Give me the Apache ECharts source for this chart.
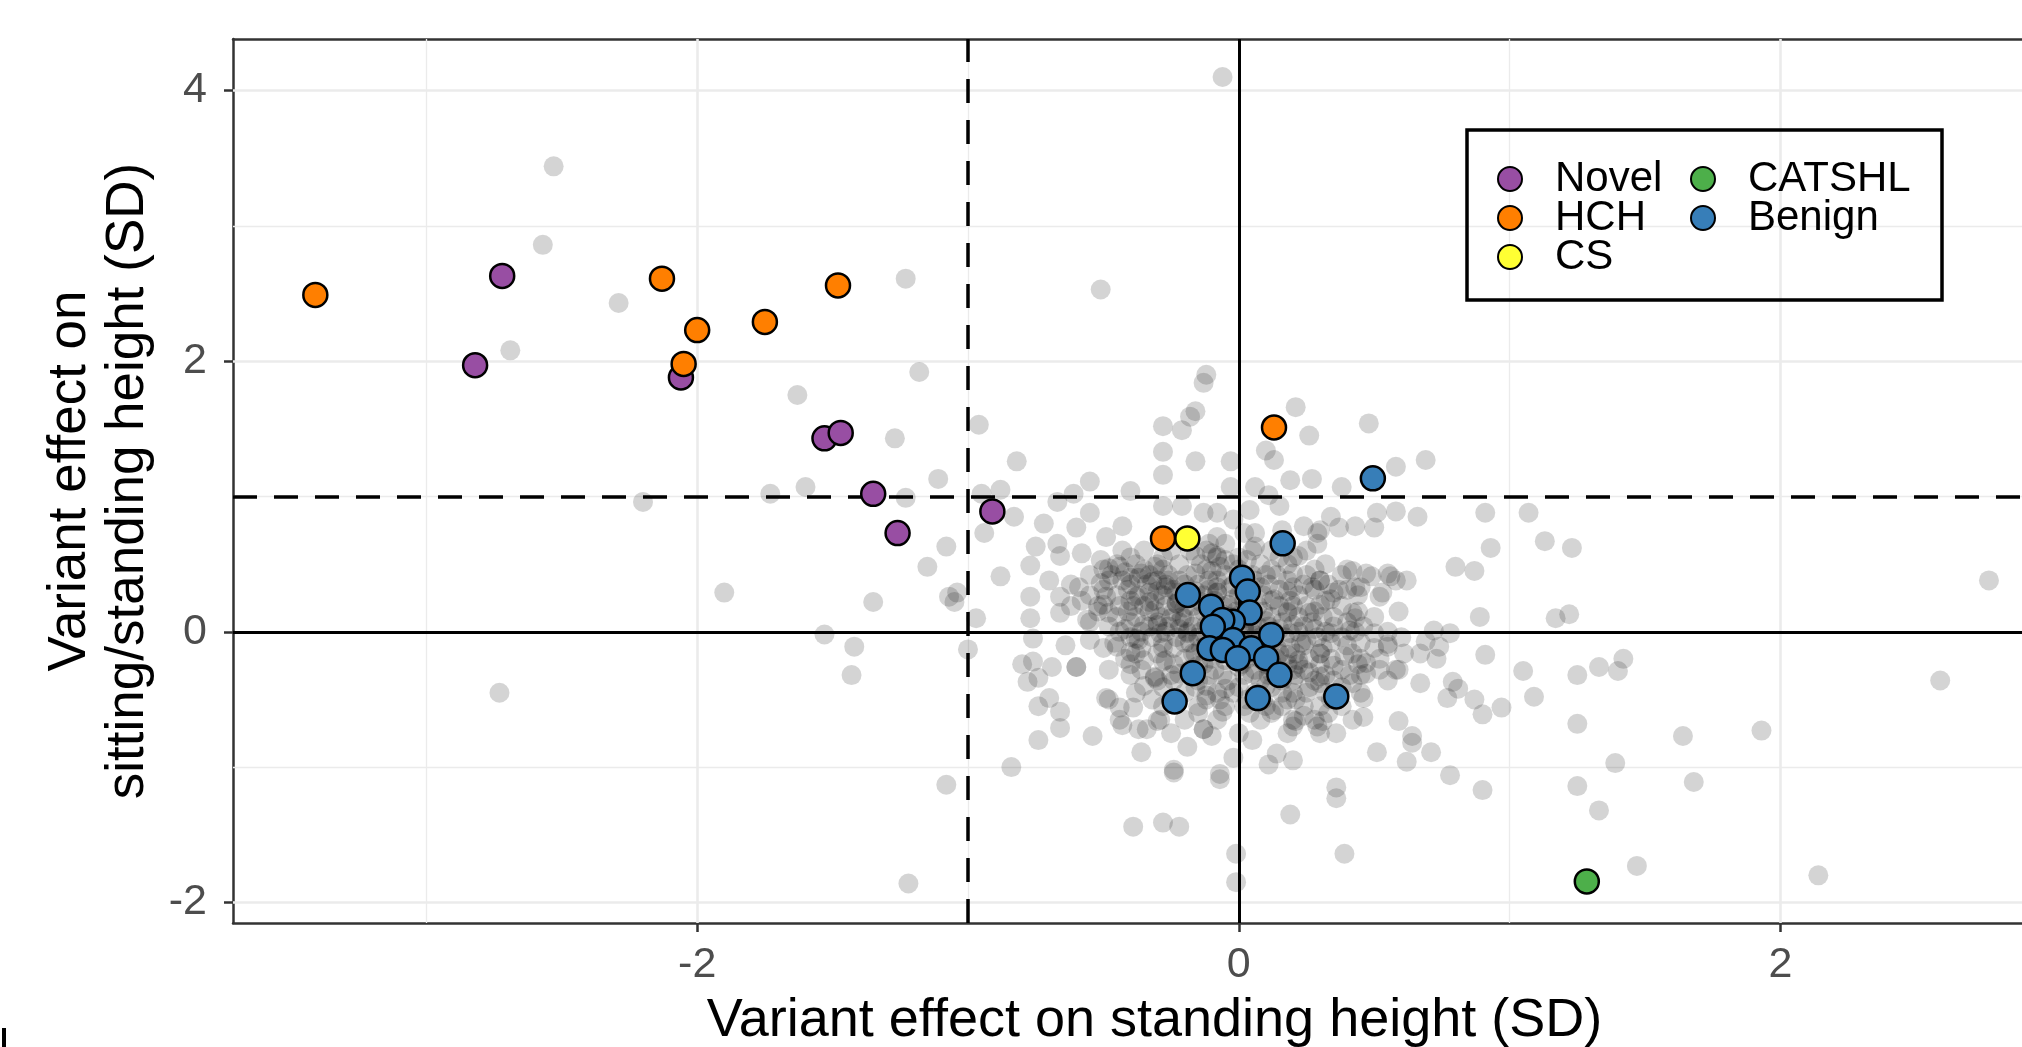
<!DOCTYPE html>
<html>
<head>
<meta charset="utf-8" />
<title>Variant effects</title>
<script src="https://cdn.jsdelivr.net/npm/echarts@6/dist/echarts.min.js"></script>
<style type="text/css">
body, html {
	margin: 0;
	padding: 0;
	background: #fff;
}
#chart {
	width: 2022px;
	height: 1047px;
}
</style>
</head>
<body>
<div id="chart"></div>
<script>
// tick values
const xTicks = [-2, 0, 2];
const yTicks = [-2, 0, 2, 4];
const xMinorGrid = [-3, -1, 1];
const yMinorGrid = [-1, 1, 3];

// highlighted variants [standing height, sitting/standing ratio]
const novelPts = [[-2.72, 2.63], [-2.82, 1.97], [-2.06, 1.88], [-1.53, 1.43], [-1.47, 1.47], [-1.35, 1.02], [-1.26, 0.73], [-0.91, 0.89]];
const hchPts = [[-3.41, 2.49], [-2.13, 2.61], [-2.00, 2.23], [-2.05, 1.98], [-1.75, 2.29], [-1.48, 2.56], [-0.28, 0.69], [0.13, 1.51]];
const csPts = [[-0.19, 0.69]];
const catshlPts = [[1.285, -1.845]];
const benignPts = [[0.495, 1.134], [0.162, 0.654], [-0.188, 0.272], [0.012, 0.400], [0.033, 0.297], [0.040, 0.142], [-0.102, 0.186],
	[-0.022, 0.075], [-0.061, 0.088], [-0.096, 0.038], [0.120, -0.023], [-0.022, -0.060], [-0.108, -0.121], [-0.059, -0.134],
	[0.046, -0.121], [-0.004, -0.195], [0.101, -0.195], [0.150, -0.318], [-0.170, -0.306], [-0.237, -0.515], [0.070, -0.490], [0.360, -0.478]];

// all other variants (grey)
const otherPts = [
	// outer left / top
	[-2.53, 3.44], [-2.57, 2.86], [-2.29, 2.43], [-2.69, 2.08], [-1.23, 2.61], [-0.51, 2.53], [-0.06, 4.10], [-1.18, 1.92], [-0.12, 1.90],
	[-1.63, 1.75], [-1.27, 1.43], [-1.11, 1.13], [-1.73, 1.02], [-1.60, 1.07], [-1.23, 0.99], [-2.20, 0.96], [-1.08, 0.63], [-1.15, 0.48],
	[-1.90, 0.29], [-1.35, 0.22], [-1.53, -0.02], [-1.42, -0.11], [-1.43, -0.32], [-1.08, -1.13], [-2.73, -0.45], [-1.22, -1.86],
	[-1.07, 0.26], [-1.05, 0.22], [-1.00, -0.13],
	// upper left of centre
	[-0.13, 1.84], [-0.28, 1.52], [-0.21, 1.49], [-0.18, 1.59], [-0.16, 1.63], [-0.28, 1.33], [-0.16, 1.26], [-0.28, 1.16], [-0.03, 1.26],
	[-0.03, 1.07], [-0.96, 1.53], [-0.82, 1.26], [-0.55, 1.11], [-0.61, 1.02], [-0.88, 1.05], [-0.95, 1.02], [-0.67, 0.96], [-0.40, 1.04],
	[-0.83, 0.85], [-0.72, 0.80], [-0.55, 0.88], [-0.60, 0.77], [-0.49, 0.70], [-0.43, 0.78], [-0.94, 0.73], [-0.75, 0.63], [-0.67, 0.65],
	[-0.66, 0.56], [-0.58, 0.58], [-0.51, 0.53], [-0.43, 0.60], [-0.44, 0.48], [-0.77, 0.49], [-0.88, 0.41], [-0.70, 0.38], [-0.59, 0.33],
	[-0.51, 0.36], [-0.43, 0.38], [-0.36, 0.43], [-0.31, 0.48], [-0.26, 0.38], [-0.33, 0.29], [-0.21, 0.93], [-0.13, 0.88], [-0.28, 0.93],
	[-0.08, 0.88], [-0.08, 0.70], [-0.08, 0.56], [-0.05, 0.53], [-0.02, 0.83], [-0.08, 0.29], [-0.11, 0.38], [-1.04, 0.29], [-0.77, 0.26],
	[-0.66, 0.26], [-0.49, 0.26], [-0.38, 0.26],
	// upper right of centre
	[0.21, 1.66], [0.26, 1.45], [0.48, 1.54], [0.10, 1.34], [0.13, 1.27], [0.19, 1.12], [0.27, 1.13], [0.38, 1.07], [0.58, 1.22],
	[0.69, 1.27], [0.06, 1.07], [0.11, 1.01], [0.15, 0.93], [0.58, 0.89], [0.66, 0.85], [0.91, 0.88], [1.07, 0.88], [0.34, 0.85],
	[0.37, 0.77], [0.50, 0.77], [0.29, 0.73], [1.13, 0.67], [0.93, 0.62], [0.80, 0.48], [0.87, 0.45], [0.42, 0.45], [0.49, 0.41],
	[0.56, 0.41], [0.62, 0.38], [0.30, 0.38], [0.20, 0.43], [0.06, 0.73], [0.35, 0.29], [0.53, 0.29], [0.45, 0.33], [1.23, 0.62],
	[2.77, 0.38],
	// lower right
	[0.89, 0.11], [1.17, 0.10], [1.22, 0.13], [0.72, 0.01], [0.74, -0.11], [0.55, -0.09], [0.91, -0.17], [1.05, -0.29], [1.25, -0.32],
	[1.33, -0.26], [1.42, -0.20], [1.40, -0.29], [2.59, -0.36], [1.09, -0.48], [0.79, -0.37], [0.81, -0.42], [0.67, -0.38], [0.59, -0.28],
	[0.46, -0.49], [0.90, -0.61], [0.97, -0.56], [0.59, -0.66], [1.25, -0.68], [1.64, -0.77], [1.93, -0.73], [0.64, -0.82], [0.51, -0.89],
	[0.71, -0.89], [0.62, -0.96], [1.39, -0.97], [0.78, -1.06], [0.90, -1.17], [1.25, -1.14], [1.68, -1.11], [1.33, -1.32], [0.36, -1.23],
	[0.19, -1.35], [0.39, -1.64], [1.47, -1.73], [2.14, -1.80], [0.11, -0.98], [0.20, -0.95], [0.31, -0.66], [0.46, -0.63], [0.47, -0.23],
	[0.59, 0.15], [0.69, -0.07], [0.73, -0.20], [0.77, -0.49], [0.41, -0.32], [0.21, -0.66], [0.43, 0.10],
	// lower left
	[-0.97, 0.10], [-0.77, 0.10], [-0.76, -0.05], [-0.64, -0.10], [-0.80, -0.24], [-0.76, -0.22], [-0.69, -0.26], [-0.60, -0.26],
	[-0.78, -0.37], [-0.74, -0.34], [-0.70, -0.49], [-0.74, -0.55], [-0.66, -0.59], [-0.66, -0.71], [-0.74, -0.80], [-0.54, -0.77],
	[-0.49, -0.49], [-0.44, -0.56], [-0.39, -0.56], [-0.43, -0.69], [-0.34, -0.72], [-0.30, -0.66], [-0.36, -0.89], [-0.84, -1.00],
	[-0.24, -1.04], [-0.07, -1.09], [-0.13, -0.72], [-0.10, -0.77], [-0.06, -0.59], [-0.12, -0.47], [-0.05, -0.42], [-0.31, -0.34],
	[-0.28, -0.22], [-0.40, -0.15], [-0.38, -0.05], [-0.39, -1.44], [-0.28, -1.41], [-0.22, -1.44], [-0.02, -0.93], [-0.01, -1.64],
	[-0.01, -1.85],
	// dense middle
	[0.06, 0.63], [0.03, 0.53], [0.22, 0.56], [0.29, 0.65], [0.40, 0.46], [0.47, 0.43], [0.55, 0.43], [0.37, 0.31], [0.43, 0.33],
	[0.52, 0.26], [0.58, 0.38], [0.20, 0.33], [0.27, 0.33], [0.34, 0.24], [0.20, 0.19], [0.26, 0.14], [0.35, 0.11], [0.42, 0.14],
	[0.19, -0.01], [0.25, -0.06], [0.34, -0.01], [0.41, 0.01], [0.50, -0.01], [0.55, -0.11], [0.61, -0.16], [0.22, -0.21], [0.30, -0.16],
	[0.39, -0.18], [0.20, -0.36], [0.30, -0.33], [0.42, -0.38], [0.47, -0.31], [0.58, -0.28], [0.16, 0.75], [0.24, 0.78], [0.30, 0.75],
	[0.43, 0.78], [0.51, 0.88], [0.02, 0.73], [0.04, 0.90],
	[0.13, -0.58], [0.20, -0.65], [0.29, -0.70], [0.36, -0.75], [0.05, -0.80], [0.14, -0.90], [0.36, -1.15], [0.67, -0.16], [0.78, -0.01],
	[0.87, -0.50], [0.64, -0.77],
	[-0.55, -0.06], [-0.45, -0.11], [-0.37, -0.06], [-0.29, -0.01], [-0.35, -0.21], [-0.27, -0.21], [-0.24, -0.36], [-0.31, -0.33],
	[-0.48, 0.14], [-0.39, 0.19], [-0.31, 0.16], [-0.23, 0.21], [-0.56, 0.09], [-0.66, 0.14], [-0.29, -0.65], [-0.13, -0.72],
	[-0.19, -0.85], [-0.24, -1.02], [-0.07, -1.05], [-0.48, -0.50], [-0.44, -0.65], [-0.37, -0.72], [-0.60, -0.26],
	[-0.16, 0.43], [-0.10, 0.58], [-0.07, 0.48], [-0.03, 0.33], [-0.08, 0.33], [-0.11, 0.65], [-0.16, 0.56], [-0.23, 0.21],
	// core
	[-0.08, 0.29], [-0.02, 0.24], [0.04, 0.19], [0.08, 0.33], [0.13, 0.24], [0.18, 0.14], [-0.15, 0.11], [-0.19, -0.01], [-0.12, -0.06],
	[-0.05, -0.01], [0.05, -0.01], [0.10, -0.11], [0.15, -0.16], [-0.05, -0.21], [0.00, -0.26], [0.05, -0.31], [-0.17, -0.16],
	[-0.22, -0.31], [-0.12, -0.40], [-0.07, -0.50], [-0.02, -0.45], [0.03, -0.50], [0.10, -0.40], [0.16, -0.45],
	[-0.25, 0.10], [-0.20, 0.18], [-0.10, 0.20], [0.00, 0.12], [0.10, 0.08], [0.20, 0.05], [0.28, 0.02], [-0.30, 0.05], [-0.22, 0.02],
	[-0.14, 0.00], [-0.04, 0.05], [0.07, 0.04], [0.15, 0.02], [0.24, -0.10], [0.12, -0.22], [0.02, -0.12], [-0.09, -0.12], [-0.20, -0.08],
	[-0.28, -0.12], [-0.15, -0.25], [-0.06, -0.32], [0.08, -0.20], [0.20, -0.28], [0.25, -0.45], [0.10, -0.55], [-0.15, -0.55],
	[-0.35, 0.05], [-0.42, 0.02], [-0.10, 0.45], [-0.20, 0.35], [-0.30, 0.30], [0.10, 0.42], [0.18, 0.30], [0.30, 0.20], [0.00, 0.40],
	[-0.40, 0.40], [-0.50, 0.20], [0.35, -0.25], [0.30, -0.55], [-0.25, -0.50], [-0.35, -0.40], [0.15, 0.55], [-0.05, 0.65],
	[0.40, -0.10], [0.45, -0.20],
	// overlapping cloud around the origin
	[-0.35, 0.60], [-0.25, 0.60], [-0.18, 0.60], [-0.12, 0.60], [0.05, 0.60], [0.12, 0.60], [0.25, 0.60],
	[-0.45, 0.50], [-0.38, 0.50], [-0.30, 0.50], [-0.22, 0.50], [-0.14, 0.50], [-0.02, 0.50], [0.08, 0.50], [0.18, 0.50], [0.32, 0.50],
	[-0.55, 0.42], [-0.47, 0.42], [-0.33, 0.42], [-0.26, 0.42], [-0.19, 0.42], [-0.05, 0.42], [0.05, 0.42], [0.14, 0.42], [0.25, 0.42], [0.38, 0.42],
	[-0.62, 0.35], [-0.40, 0.35], [-0.34, 0.35], [-0.27, 0.35], [-0.15, 0.35], [-0.02, 0.35], [0.11, 0.35], [0.24, 0.35], [0.33, 0.35],
	[-0.55, 0.27], [-0.45, 0.27], [-0.37, 0.27], [-0.28, 0.27], [-0.20, 0.27], [-0.13, 0.27], [0.00, 0.27], [0.09, 0.27], [0.22, 0.27], [0.44, 0.27],
	[-0.62, 0.19], [-0.52, 0.19], [-0.44, 0.19], [-0.35, 0.19], [-0.27, 0.19], [-0.17, 0.19], [-0.06, 0.19], [0.07, 0.19], [0.15, 0.19], [0.25, 0.19], [0.38, 0.19],
	[-0.45, 0.11], [-0.38, 0.11], [-0.29, 0.11], [-0.21, 0.11], [-0.10, 0.11], [-0.03, 0.11], [0.12, 0.11], [0.22, 0.11], [0.31, 0.11], [0.50, 0.11],
	[-0.48, 0.04], [-0.33, 0.04], [-0.26, 0.04], [-0.17, 0.04], [-0.09, 0.04], [0.02, 0.04], [0.11, 0.04], [0.24, 0.04], [0.35, 0.04], [0.46, 0.04],
	[-0.40, -0.04], [-0.32, -0.04], [-0.23, -0.04], [-0.15, -0.04], [-0.06, -0.04], [0.08, -0.04], [0.17, -0.04], [0.29, -0.04], [0.38, -0.04], [0.60, -0.04],
	[-0.50, -0.12], [-0.36, -0.12], [-0.24, -0.12], [-0.14, -0.12], [-0.02, -0.12], [0.06, -0.12], [0.19, -0.12], [0.31, -0.12], [0.50, -0.12],
	[-0.42, -0.20], [-0.20, -0.20], [-0.10, -0.20], [0.03, -0.20], [0.14, -0.20], [0.26, -0.20], [0.34, -0.20], [0.52, -0.20],
	[-0.48, -0.28], [-0.36, -0.28], [-0.18, -0.28], [-0.09, -0.28], [0.06, -0.28], [0.13, -0.28], [0.24, -0.28], [0.38, -0.28], [0.52, -0.28],
	[-0.30, -0.36], [-0.15, -0.36], [-0.04, -0.36], [0.08, -0.36], [0.16, -0.36], [0.28, -0.36], [0.35, -0.36], [0.55, -0.36],
	[-0.38, -0.45], [-0.20, -0.45], [-0.08, -0.45], [0.06, -0.45], [0.20, -0.45], [0.32, -0.45], [0.45, -0.45],
	[-0.28, -0.55], [-0.05, -0.55], [0.02, -0.55], [0.16, -0.55], [0.24, -0.55], [0.38, -0.55],
	[-0.20, -0.65], [-0.08, -0.65], [0.08, -0.65], [0.28, -0.65], [0.42, -0.65],
	[-0.25, -0.75], [0.00, -0.75], [0.18, -0.75], [0.30, -0.75],
	// darker diagonal streak through the centre
	[-0.48, 0.47], [-0.42, 0.44], [-0.37, 0.40], [-0.32, 0.37], [-0.27, 0.33], [-0.23, 0.29], [-0.18, 0.25], [-0.14, 0.22],
	[-0.10, 0.17], [-0.06, 0.13], [-0.02, 0.09], [0.02, 0.02], [0.06, -0.03], [0.10, -0.07], [0.14, -0.12], [0.18, -0.17],
	[0.22, -0.24], [0.26, -0.30], [0.30, -0.38], [0.24, -0.62], [0.20, -0.70], [-0.16, 0.30], [-0.12, 0.05], [0.07, -0.15],
	[-0.04, 0.20], [0.03, 0.10], [-0.20, 0.10], [-0.33, 0.22], [0.12, -0.30], [0.18, -0.50],
	// second layer of the dense cloud
	[-0.40, 0.55], [-0.28, 0.55], [-0.08, 0.55], [0.00, 0.55], [0.20, 0.55],
	[-0.50, 0.46], [-0.35, 0.46], [-0.28, 0.46], [-0.12, 0.46], [0.00, 0.46], [0.12, 0.46], [0.28, 0.46],
	[-0.48, 0.38], [-0.30, 0.38], [-0.22, 0.38], [-0.08, 0.38], [0.06, 0.38], [0.18, 0.38], [0.30, 0.38],
	[-0.50, 0.31], [-0.41, 0.31], [-0.24, 0.31], [-0.11, 0.31], [0.04, 0.31], [0.15, 0.31], [0.28, 0.31], [0.40, 0.31],
	[-0.58, 0.23], [-0.40, 0.23], [-0.31, 0.23], [-0.22, 0.23], [-0.09, 0.23], [0.02, 0.23], [0.12, 0.23], [0.19, 0.23], [0.32, 0.23],
	[-0.52, 0.15], [-0.41, 0.15], [-0.33, 0.15], [-0.24, 0.15], [-0.13, 0.15], [-0.01, 0.15], [0.09, 0.15], [0.18, 0.15], [0.28, 0.15], [0.44, 0.15],
	[-0.55, 0.07], [-0.40, 0.07], [-0.30, 0.07], [-0.22, 0.07], [-0.06, 0.07], [0.05, 0.07], [0.16, 0.07], [0.27, 0.07], [0.40, 0.07],
	[-0.44, 0.00], [-0.36, 0.00], [-0.27, 0.00], [-0.19, 0.00], [-0.10, 0.00], [0.13, 0.00], [0.22, 0.00], [0.32, 0.00], [0.43, 0.00], [0.55, 0.00],
	[-0.46, -0.08], [-0.28, -0.08], [-0.18, -0.08], [-0.10, -0.08], [0.03, -0.08], [0.12, -0.08], [0.23, -0.08], [0.34, -0.08], [0.45, -0.08],
	[-0.38, -0.16], [-0.30, -0.16], [-0.16, -0.16], [-0.06, -0.16], [0.09, -0.16], [0.21, -0.16], [0.30, -0.16], [0.42, -0.16],
	[-0.40, -0.24], [-0.24, -0.24], [-0.13, -0.24], [0.01, -0.24], [0.10, -0.24], [0.18, -0.24], [0.30, -0.24], [0.44, -0.24],
	[-0.40, -0.32], [-0.25, -0.32], [-0.11, -0.32], [0.02, -0.32], [0.11, -0.32], [0.21, -0.32], [0.32, -0.32], [0.45, -0.32],
	[-0.28, -0.41], [-0.16, -0.41], [0.00, -0.41], [0.12, -0.41], [0.26, -0.41], [0.38, -0.41],
	[-0.32, -0.50], [-0.12, -0.50], [0.09, -0.50], [0.21, -0.50], [0.34, -0.50],
	[-0.15, -0.60], [0.04, -0.60], [0.12, -0.60], [0.33, -0.60]
];

const font = 'Liberation Sans, Arial, sans-serif';
const borderLine = { show: true, onZero: false, lineStyle: { color: '#333', width: 2.5 } };

function gridLines(values, key, width) {
	return values.map(function (v) {
		let item = { lineStyle: { color: '#ebebeb', width: width, type: 'solid' } };
		item[key] = v;
		return item;
	});
}

function colouredSeries(name, data, colour) {
	return {
		name: name,
		type: 'scatter',
		data: data,
		symbol: 'circle',
		symbolSize: 24,
		z: 4,
		itemStyle: { color: colour, borderColor: '#000', borderWidth: 2.5, opacity: 1 },
		emphasis: { disabled: true }
	};
}

let chart = echarts.init(document.getElementById('chart'));
let novel = colouredSeries('Novel', novelPts, '#984EA3');
// reference lines at 0 and the thresholds
novel.markLine = {
	silent: true,
	symbol: 'none',
	z: 3,
	label: { show: false },
	data: [
		{ xAxis: 0, lineStyle: { color: '#000', width: 3, type: 'solid' } },
		{ yAxis: 0, lineStyle: { color: '#000', width: 3, type: 'solid' } },
		{ xAxis: -1, lineStyle: { color: '#000', width: 3.5, type: [24, 17] } },
		{ yAxis: 1, lineStyle: { color: '#000', width: 3.5, type: [24, 17] } }
	]
};

chart.setOption({
	animation: false,
	textStyle: { fontFamily: font },
	grid: { left: 233, top: 39, right: 0, bottom: 124, outerBoundsMode: 'none' },
	xAxis: [
		{
			type: 'value',
			min: -3.714, max: 2.892,
			name: 'Variant effect on standing height (SD)',
			nameLocation: 'middle',
			nameGap: 71,
			nameTextStyle: { fontSize: 54, color: '#000', fontFamily: font, padding: [0, 0, 0, 54] },
			axisLine: borderLine,
			axisTick: { show: true, customValues: xTicks, length: 9, lineStyle: { color: '#333', width: 2.5 } },
			axisLabel: { customValues: xTicks, fontSize: 43, color: '#4d4d4d', margin: 21, fontFamily: font },
			splitLine: { show: false }
		},
		{
			// top edge of the panel
			type: 'value',
			position: 'top',
			min: -3.714, max: 2.892,
			axisLine: borderLine,
			axisTick: { show: false },
			axisLabel: { show: false },
			splitLine: { show: false }
		}
	],
	yAxis: {
		type: 'value',
		min: -2.152, max: 4.381,
		name: 'Variant effect on\nsitting/standing height (SD)',
		nameLocation: 'middle',
		nameGap: 75,
		nameTextStyle: { fontSize: 53, lineHeight: 58, color: '#000', fontFamily: font },
		axisLine: borderLine,
		axisTick: { show: true, customValues: yTicks, length: 9, lineStyle: { color: '#333', width: 2.5 } },
		axisLabel: { customValues: yTicks, fontSize: 43, color: '#4d4d4d', margin: 26, fontFamily: font },
		splitLine: { show: false }
	},
	legend: [
		{
			data: ['Novel', 'HCH', 'CS'],
			orient: 'vertical', left: 1497, top: 158, padding: 0,
			itemWidth: 80, itemHeight: 24, itemGap: -3, selectedMode: false,
			textStyle: { fontSize: 42, lineHeight: 38, color: '#000', fontFamily: font }
		},
		{
			data: ['CATSHL', 'Benign'],
			orient: 'vertical', left: 1690, top: 158, padding: 0,
			itemWidth: 80, itemHeight: 24, itemGap: -3, selectedMode: false,
			textStyle: { fontSize: 42, lineHeight: 38, color: '#000', fontFamily: font }
		}
	],
	graphic: [
		{ type: 'rect', z: 10, shape: { x: 1467, y: 130, width: 475, height: 170 },
			style: { fill: 'none', stroke: '#000', lineWidth: 3.5 } },
		{ type: 'rect', z: 10, shape: { x: 2, y: 1028, width: 4, height: 19 }, style: { fill: '#000' } }
	],
	series: [
		{
			name: 'Other',
			type: 'scatter',
			data: otherPts,
			symbol: 'circle',
			symbolSize: 20,
			z: 2,
			itemStyle: { color: 'rgba(0,0,0,0.21)', borderWidth: 0 },
			emphasis: { disabled: true },
			markLine: {
				silent: true,
				symbol: 'none',
				z: 1,
				label: { show: false },
				data: gridLines(xTicks, 'xAxis', 2.6).concat(gridLines(xMinorGrid, 'xAxis', 1.3))
					.concat(gridLines(yTicks, 'yAxis', 2.6)).concat(gridLines(yMinorGrid, 'yAxis', 1.3))
			}
		},
		novel,
		colouredSeries('HCH', hchPts, '#FF7F00'),
		colouredSeries('CS', csPts, '#FFFF33'),
		colouredSeries('CATSHL', catshlPts, '#4DAF4A'),
		colouredSeries('Benign', benignPts, '#377EB8')
	]
});
</script>
</body>
</html>
